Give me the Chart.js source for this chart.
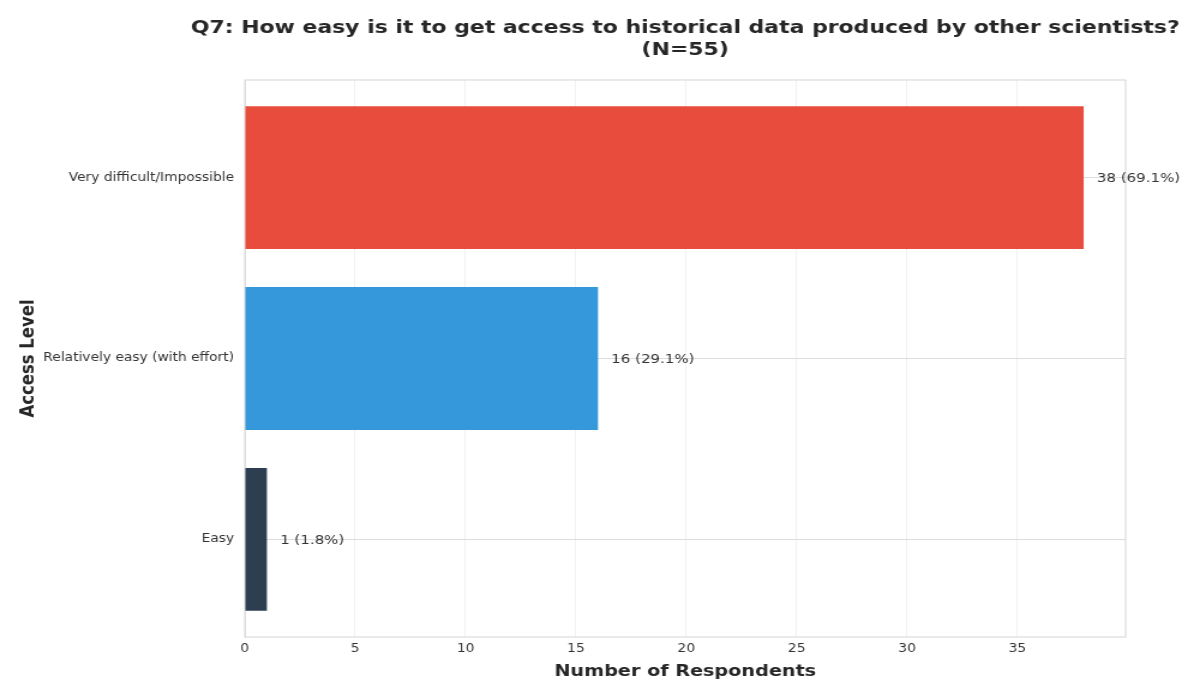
<!DOCTYPE html>
<html>
<head>
<meta charset="utf-8">
<script src="https://cdn.jsdelivr.net/npm/chart.js@4"></script>
<style>
  html, body { margin: 0; padding: 0; background: #fff; overflow: hidden; }
  /* the reference is stretched sideways, so draw at 1000 wide and widen to 1200 */
  #chart { display: block; width: 1000px; height: 699px; transform: scaleX(1.2); transform-origin: 0 0; }
</style>
</head>
<body>
<canvas id="chart" width="1000" height="699"></canvas>
<script>
'use strict';

const categories = ['Very difficult/Impossible', 'Relatively easy (with effort)', 'Easy'];
const counts = [38, 16, 1];
const percents = ['69.1%', '29.1%', '1.8%'];
const barColors = ['#e74c3c', '#3498db', '#2c3e50'];
const titleLines = ['Q7: How easy is it to get access to historical data produced by other scientists?', '(N=55)'];

const FONT = "'DejaVu Sans', sans-serif";

// title centred over the plot area, plus the count labels next to each bar
const extrasPlugin = {
  id: 'extras',
  afterDraw(chart) {
    const ctx = chart.ctx;
    const area = chart.chartArea;
    const x = chart.scales.x;
    const y = chart.scales.y;
    ctx.save();
    ctx.fillStyle = '#262626';
    ctx.font = 'bold 18.3px ' + FONT;
    ctx.textAlign = 'center';
    ctx.textBaseline = 'middle';
    const cx = (area.left + area.right) / 2;
    ctx.fillText(titleLines[0], cx, 28);
    ctx.fillText(titleLines[1], cx, 50);

    ctx.font = '12.5px ' + FONT;
    ctx.fillStyle = '#333';
    ctx.textAlign = 'left';
    for (let i = 0; i < counts.length; i++) {
      const px = x.getPixelForValue(counts[i] + 0.6);
      const py = y.getPixelForValue(i);
      ctx.fillText(counts[i] + ' (' + percents[i] + ')', px, py + 1);
    }
    ctx.restore();
  }
};

// light frame round the plot area
const framePlugin = {
  id: 'frame',
  beforeDatasetsDraw(chart) {
    const ctx = chart.ctx;
    const a = chart.chartArea;
    ctx.save();
    ctx.strokeStyle = '#dddddd';
    ctx.lineWidth = 1.2;
    ctx.strokeRect(a.left, a.top, a.right - a.left, a.bottom - a.top);
    ctx.restore();
  }
};

new Chart(document.getElementById('chart'), {
  type: 'bar',
  data: {
    datasets: [{
      data: counts.map((c, i) => ({ x: c, y: i })),
      backgroundColor: barColors,
      borderWidth: 0,
      barPercentage: 0.79,
      categoryPercentage: 1.0
    }]
  },
  options: {
    indexAxis: 'y',
    responsive: false,
    animation: false,
    devicePixelRatio: 1,
    layout: { padding: { top: 80, right: 62, bottom: 18, left: 14 } },
    plugins: {
      legend: { display: false },
      tooltip: { enabled: false }
    },
    scales: {
      x: {
        type: 'linear',
        min: 0,
        max: 39.9,
        ticks: {
          stepSize: 5,
          includeBounds: false,
          color: '#333',
          font: { family: FONT, size: 11.5 },
          padding: 5
        },
        grid: { color: '#f0f0f0', lineWidth: 1, drawTicks: false },
        border: { display: false },
        title: {
          display: true,
          text: 'Number of Respondents',
          color: '#262626',
          font: { family: FONT, size: 16, weight: 'bold' },
          padding: { top: 2, bottom: 0 }
        },
        afterFit(s) { s.height = 44; }
      },
      y: {
        type: 'linear',
        reverse: true,
        offset: false,
        min: -0.54,
        max: 2.54,
        ticks: {
          stepSize: 1,
          includeBounds: false,
          color: '#333',
          font: { family: FONT, size: 11.5 },
          padding: 9,
          callback: (v) => categories[v]
        },
        grid: { color: '#dddddd', lineWidth: 1, offset: false, drawTicks: false },
        border: { display: true, color: '#dddddd' },
        title: {
          display: true,
          text: 'Access Level',
          color: '#262626',
          font: { family: FONT, size: 16.5, weight: 'bold' },
          padding: { top: 0, bottom: 6 }
        },
        afterFit(s) { s.width = 190; }
      }
    }
  },
  plugins: [framePlugin, extrasPlugin]
});
</script>
</body>
</html>
